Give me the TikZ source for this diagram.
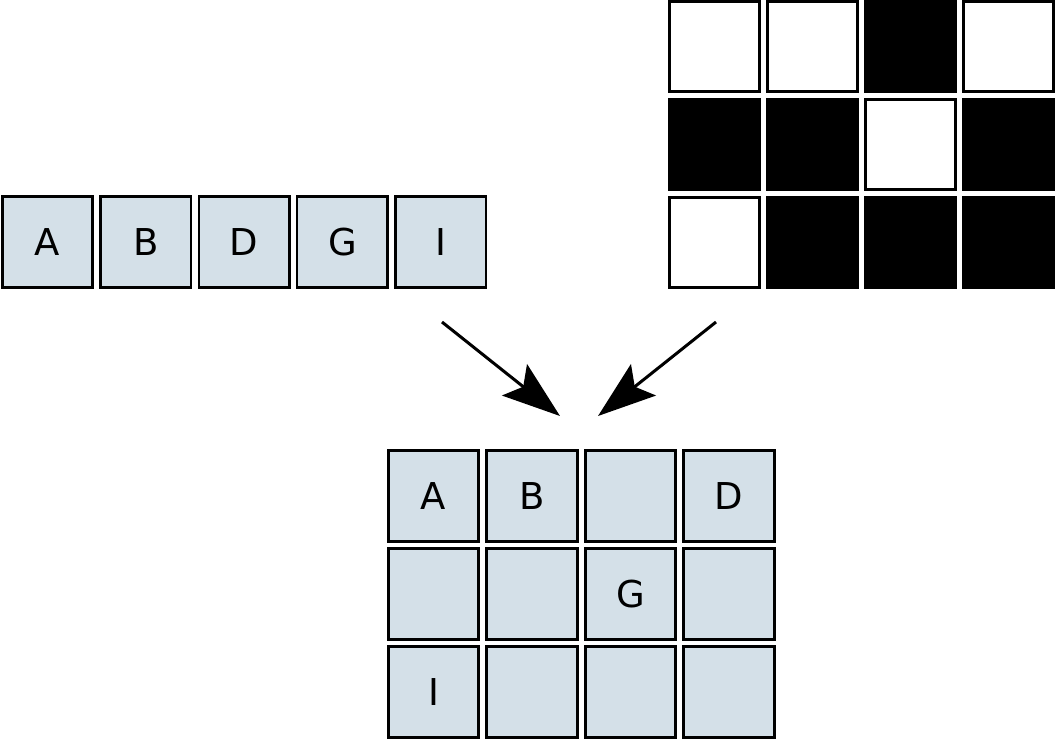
\documentclass[tikz,border=0pt]{standalone}
\usepackage{fontspec}
\setmainfont{DejaVu Sans}
\usetikzlibrary{arrows.meta}
\definecolor{cellblue}{RGB}{212,224,232}

\begin{document}
\begin{tikzpicture}[x=1pt,y=-1pt,
 cell/.style={draw,line width=2.6pt,minimum size=90.5pt,inner sep=0pt,font=\fontsize{37}{40}\selectfont},
 letter/.style={cell,fill=cellblue}, %文字のマス
 on/.style={cell,fill=white}, %白マス
 off/.style={cell,fill=black}, %黒マス
 pick/.style={line width=3pt,-{Stealth[length=58pt,width=40pt,inset=11pt]}}]
 \useasboundingbox (0,0) rectangle (1057,740);
 % 文字列
 \node[letter] (l1) at (47.5,242) {A};
 \node[letter] (l2) at (145.8,242) {B};
 \node[letter] (l3) at (244.1,242) {D};
 \node[letter] (l4) at (342.4,242) {G};
 \node[letter] (l5) at (440.7,242) {I};
 % マスク
 \node[on] (m11) at (714.5,46.5) {}; \node[on] (m12) at (812.5,46.5) {};
 \node[off] (m13) at (910.5,46.5) {}; \node[on] (m14) at (1008.5,46.5) {};
 \node[off] (m21) at (714.5,144.5) {}; \node[off] (m22) at (812.5,144.5) {};
 \node[on] (m23) at (910.5,144.5) {}; \node[off] (m24) at (1008.5,144.5) {};
 \node[on] (m31) at (714.5,242.5) {}; \node[off] (m32) at (812.5,242.5) {};
 \node[off] (m33) at (910.5,242.5) {}; \node[off] (m34) at (1008.5,242.5) {};
 % 結果
 \node[letter] (r11) at (433.5,496) {A}; \node[letter] (r12) at (532,496) {B};
 \node[letter] (r13) at (630.5,496) {}; \node[letter] (r14) at (729,496) {D};
 \node[letter] (r21) at (433.5,594) {}; \node[letter] (r22) at (532,594) {};
 \node[letter] (r23) at (630.5,594) {G}; \node[letter] (r24) at (729,594) {};
 \node[letter] (r31) at (433.5,692) {I}; \node[letter] (r32) at (532,692) {};
 \node[letter] (r33) at (630.5,692) {}; \node[letter] (r34) at (729,692) {};
 % 矢印
 \coordinate (s1) at (442,322); %左の始点
 \coordinate (t1) at (560,416); %左の終点
 \coordinate (s2) at (716,322); %右の始点
 \coordinate (t2) at (598,416); %右の終点
 \draw[pick] (s1)--(t1);
 \draw[pick] (s2)--(t2);
\end{tikzpicture}
\end{document}
